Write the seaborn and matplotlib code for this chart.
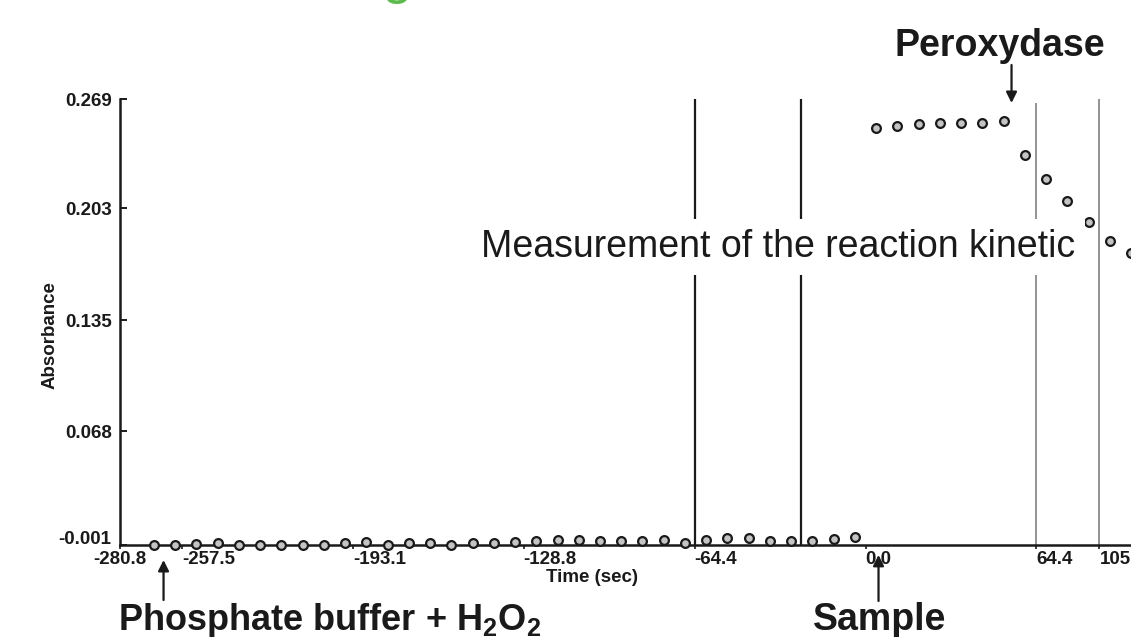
import matplotlib
matplotlib.use("Agg")
import matplotlib.pyplot as plt
import matplotlib.transforms as mtransforms
import seaborn as sns
import pandas as pd

# ---------------- data ----------------
time_buffer = [-268, -260, -252, -244, -236, -228, -220, -212, -204, -196,
               -188, -180, -172, -164, -156, -148, -140, -132, -124, -116,
               -108, -100, -92, -84, -76, -68, -60, -52, -44, -36,
               -28, -20, -12, -4]
abs_buffer = [-0.001, -0.001, -0.0005, 0.0, -0.001, -0.001, -0.001, -0.001, -0.001, 0.0002,
              0.001, -0.0012, 0.0, 0.0, -0.001, 0.0004, 0.0005, 0.001, 0.0015, 0.002,
              0.002, 0.0015, 0.0015, 0.0015, 0.002, 0.0004, 0.002, 0.003, 0.003, 0.0015,
              0.0015, 0.0015, 0.0025, 0.004]
time_sample = [4, 12, 20, 28, 36, 44, 52, 60, 68, 76, 84, 92, 100]
abs_sample = [0.2516, 0.2528, 0.2537, 0.2543, 0.2547, 0.2543, 0.2557,
              0.2351, 0.2206, 0.2073, 0.1945, 0.1830, 0.1758]

x_tick_pos = [-280.8, -257.5, -193.1, -128.8, -64.4, 0.0, 64.4, 88.1]
x_tick_labels = ["-280.8", "-257.5", "-193.1", "-128.8", "-64.4", "0.0", "64.4", "105"]
y_ticks = [-0.001, 0.068, 0.135, 0.203, 0.269]
y_tick_labels = ["-0.001", "0.068", "0.135", "0.203", "0.269"]
black_marks = [-64.4, -24.4]
grey_marks = [64.4, 88.1]

df = pd.DataFrame({
    "time": time_buffer + time_sample,
    "absorbance": abs_buffer + abs_sample,
})

# ---------------- style ----------------
sns.set_theme(style="white")
plt.rcParams["font.family"] = ["Liberation Sans", "DejaVu Sans"]
plt.rcParams["mathtext.fontset"] = "custom"
plt.rcParams["mathtext.rm"] = "Liberation Sans:bold"
plt.rcParams["mathtext.it"] = "Liberation Sans:bold"
plt.rcParams["mathtext.bf"] = "Liberation Sans:bold"

W, H = 1131, 637
fig = plt.figure(figsize=(W / 100, H / 100), dpi=100, facecolor="white")
ax = fig.add_axes([120 / W, 92 / H, 1 - 120 / W, 446 / H])
ax.set_facecolor("white")

ink = "#1a1a1a"
small = 13.5

# vertical marker lines
ax.vlines(black_marks, -0.001, 0.269, colors=ink, lw=1.6, zorder=1)
ax.vlines(grey_marks[0], -0.001, 0.2666, colors="#8a8a8a", lw=1.3, zorder=1)
ax.vlines(grey_marks[1], -0.001, 0.269, colors="#8a8a8a", lw=1.3, zorder=1)

sns.scatterplot(data=df, x="time", y="absorbance", ax=ax, marker="o", s=40,
                color="#c4c4c4", edgecolor=ink, linewidth=1.6, zorder=5,
                clip_on=False, legend=False)

ax.set_xlim(-280.8, 100.0)
ax.set_ylim(-0.001, 0.269)

for side in ["top", "right"]:
    ax.spines[side].set_visible(False)
for side in ["left", "bottom"]:
    ax.spines[side].set_color(ink)
    ax.spines[side].set_linewidth(1.8)
ax.spines["bottom"].set_zorder(3)

ax.set_xticks(x_tick_pos)
ax.set_xticklabels(x_tick_labels, fontsize=small, fontweight="bold", color=ink)
ax.set_yticks(y_ticks)
ax.set_yticklabels(y_tick_labels, fontsize=small, fontweight="bold", color=ink)
ax.tick_params(axis="y", direction="in", length=5, width=1.4, color=ink, pad=6,
               left=True)
ax.tick_params(axis="x", direction="out", length=3, width=1.2, color=ink, pad=1,
               bottom=True)
for i, lab in enumerate(ax.get_xticklabels()):
    if i == 0:
        lab.set_ha("center")
    else:
        lab.set_ha("left")
# lift the bottom y label above the x axis line, as in the reference
lab0 = ax.get_yticklabels()[0]
lab0.set_transform(lab0.get_transform() +
                   mtransforms.ScaledTranslation(0, 8 / 100, fig.dpi_scale_trans))

ax.set_xlabel("")
ax.set_ylabel("")
fig.text(592 / W, 1 - 578 / H, "Time (sec)", ha="center", va="center",
         fontsize=small, fontweight="bold", color=ink)
fig.text(50 / W, 1 - 335 / H, "Absorbance", ha="center", va="center",
         rotation=90, fontsize=small, fontweight="bold", color=ink)

# central label with white box hiding the lines
fig.text(778 / W, 1 - 247 / H, "Measurement of the reaction kinetic",
         ha="center", va="center", fontsize=27, color=ink, zorder=4,
         bbox=dict(facecolor="white", edgecolor="none", pad=7))

# event labels
fig.text(1000 / W, 1 - 46 / H, "Peroxydase", ha="center", va="center",
         fontsize=27, fontweight="bold", color=ink)
fig.text(118 / W, 1 - 620 / H, r"Phosphate buffer + $\mathrm{H_{2}O_{2}}$", ha="left",
         va="center", fontsize=26, fontweight="bold", color=ink)
fig.text(880 / W, 1 - 620 / H, "Sample", ha="center", va="center",
         fontsize=27, fontweight="bold", color=ink)

arrow = dict(arrowstyle="-|>", color=ink, lw=1.6, mutation_scale=16,
             shrinkA=0, shrinkB=0)
ax.annotate("", xy=(55.0, 0.2666), xytext=(55.0, 0.2896), arrowprops=arrow,
            annotation_clip=False)
ax.annotate("", xy=(-264.4, -0.0101), xytext=(-264.4, -0.0343), arrowprops=arrow,
            annotation_clip=False)
ax.annotate("", xy=(4.9, -0.0070), xytext=(4.9, -0.0349), arrowprops=arrow,
            annotation_clip=False)

# cropped green heading above the chart (only a descender is visible)
fig.text(397 / W, 1 + 8.5 / H, "g", ha="center", va="baseline", fontsize=40,
         color="#5cbb4c")

fig.savefig("out.png", dpi=100, facecolor="white")
